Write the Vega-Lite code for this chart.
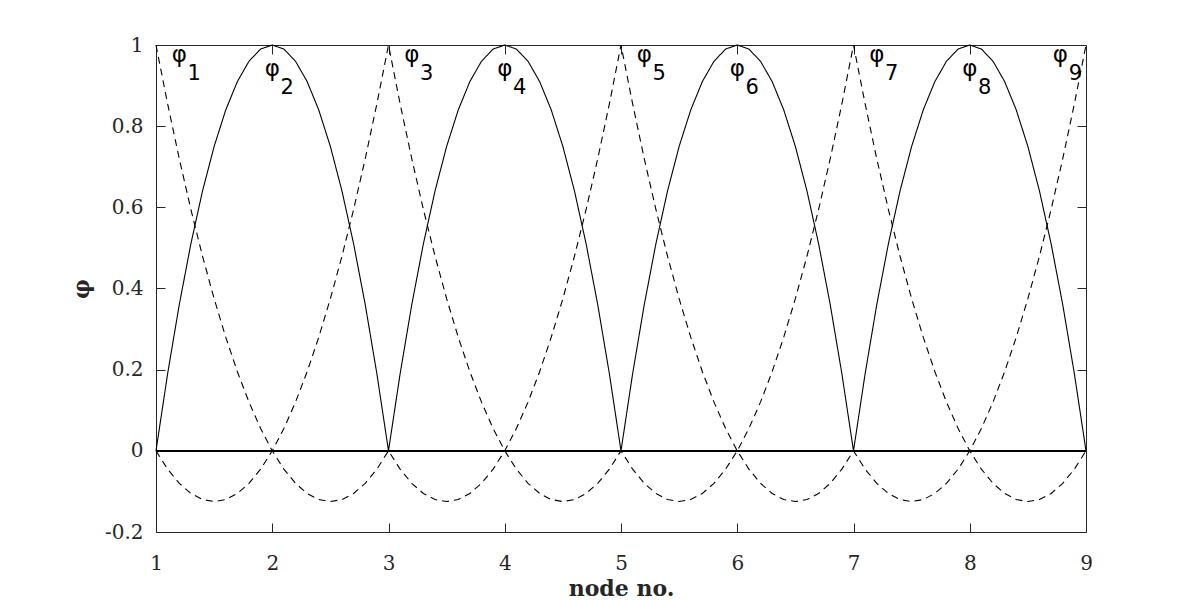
{
  "$schema": "https://vega.github.io/schema/vega-lite/v6.json",
  "width": 930,
  "height": 487,
  "autosize": "none",
  "padding": {"left": 156, "top": 45, "right": 114, "bottom": 68},
  "background": "white",
  "config": {"view": {"stroke": null}},
  "datasets": {
    "curves": [
      {"s":"A","t":"corner","x":1.0,"y":1},{"s":"A","t":"corner","x":1.1,"y":0.855},{"s":"A","t":"corner","x":1.2,"y":0.72},{"s":"A","t":"corner","x":1.3,"y":0.595},{"s":"A","t":"corner","x":1.4,"y":0.48},{"s":"A","t":"corner","x":1.5,"y":0.375},{"s":"A","t":"corner","x":1.6,"y":0.28},{"s":"A","t":"corner","x":1.7,"y":0.195},{"s":"A","t":"corner","x":1.8,"y":0.12},{"s":"A","t":"corner","x":1.9,"y":0.055},
      {"s":"A","t":"corner","x":2.0,"y":0},{"s":"A","t":"corner","x":2.1,"y":-0.045},{"s":"A","t":"corner","x":2.2,"y":-0.08},{"s":"A","t":"corner","x":2.3,"y":-0.105},{"s":"A","t":"corner","x":2.4,"y":-0.12},{"s":"A","t":"corner","x":2.5,"y":-0.125},{"s":"A","t":"corner","x":2.6,"y":-0.12},{"s":"A","t":"corner","x":2.7,"y":-0.105},{"s":"A","t":"corner","x":2.8,"y":-0.08},{"s":"A","t":"corner","x":2.9,"y":-0.045},
      {"s":"A","t":"corner","x":3.0,"y":0},{"s":"A","t":"corner","x":3.1,"y":-0.045},{"s":"A","t":"corner","x":3.2,"y":-0.08},{"s":"A","t":"corner","x":3.3,"y":-0.105},{"s":"A","t":"corner","x":3.4,"y":-0.12},{"s":"A","t":"corner","x":3.5,"y":-0.125},{"s":"A","t":"corner","x":3.6,"y":-0.12},{"s":"A","t":"corner","x":3.7,"y":-0.105},{"s":"A","t":"corner","x":3.8,"y":-0.08},{"s":"A","t":"corner","x":3.9,"y":-0.045},
      {"s":"A","t":"corner","x":4.0,"y":0},{"s":"A","t":"corner","x":4.1,"y":0.055},{"s":"A","t":"corner","x":4.2,"y":0.12},{"s":"A","t":"corner","x":4.3,"y":0.195},{"s":"A","t":"corner","x":4.4,"y":0.28},{"s":"A","t":"corner","x":4.5,"y":0.375},{"s":"A","t":"corner","x":4.6,"y":0.48},{"s":"A","t":"corner","x":4.7,"y":0.595},{"s":"A","t":"corner","x":4.8,"y":0.72},{"s":"A","t":"corner","x":4.9,"y":0.855},
      {"s":"A","t":"corner","x":5.0,"y":1},{"s":"A","t":"corner","x":5.1,"y":0.855},{"s":"A","t":"corner","x":5.2,"y":0.72},{"s":"A","t":"corner","x":5.3,"y":0.595},{"s":"A","t":"corner","x":5.4,"y":0.48},{"s":"A","t":"corner","x":5.5,"y":0.375},{"s":"A","t":"corner","x":5.6,"y":0.28},{"s":"A","t":"corner","x":5.7,"y":0.195},{"s":"A","t":"corner","x":5.8,"y":0.12},{"s":"A","t":"corner","x":5.9,"y":0.055},
      {"s":"A","t":"corner","x":6.0,"y":0},{"s":"A","t":"corner","x":6.1,"y":-0.045},{"s":"A","t":"corner","x":6.2,"y":-0.08},{"s":"A","t":"corner","x":6.3,"y":-0.105},{"s":"A","t":"corner","x":6.4,"y":-0.12},{"s":"A","t":"corner","x":6.5,"y":-0.125},{"s":"A","t":"corner","x":6.6,"y":-0.12},{"s":"A","t":"corner","x":6.7,"y":-0.105},{"s":"A","t":"corner","x":6.8,"y":-0.08},{"s":"A","t":"corner","x":6.9,"y":-0.045},
      {"s":"A","t":"corner","x":7.0,"y":0},{"s":"A","t":"corner","x":7.1,"y":-0.045},{"s":"A","t":"corner","x":7.2,"y":-0.08},{"s":"A","t":"corner","x":7.3,"y":-0.105},{"s":"A","t":"corner","x":7.4,"y":-0.12},{"s":"A","t":"corner","x":7.5,"y":-0.125},{"s":"A","t":"corner","x":7.6,"y":-0.12},{"s":"A","t":"corner","x":7.7,"y":-0.105},{"s":"A","t":"corner","x":7.8,"y":-0.08},{"s":"A","t":"corner","x":7.9,"y":-0.045},
      {"s":"A","t":"corner","x":8.0,"y":0},{"s":"A","t":"corner","x":8.1,"y":0.055},{"s":"A","t":"corner","x":8.2,"y":0.12},{"s":"A","t":"corner","x":8.3,"y":0.195},{"s":"A","t":"corner","x":8.4,"y":0.28},{"s":"A","t":"corner","x":8.5,"y":0.375},{"s":"A","t":"corner","x":8.6,"y":0.48},{"s":"A","t":"corner","x":8.7,"y":0.595},{"s":"A","t":"corner","x":8.8,"y":0.72},{"s":"A","t":"corner","x":8.9,"y":0.855},
      {"s":"A","t":"corner","x":9.0,"y":1},

      {"s":"B","t":"corner","x":1.0,"y":0},{"s":"B","t":"corner","x":1.1,"y":-0.045},{"s":"B","t":"corner","x":1.2,"y":-0.08},{"s":"B","t":"corner","x":1.3,"y":-0.105},{"s":"B","t":"corner","x":1.4,"y":-0.12},{"s":"B","t":"corner","x":1.5,"y":-0.125},{"s":"B","t":"corner","x":1.6,"y":-0.12},{"s":"B","t":"corner","x":1.7,"y":-0.105},{"s":"B","t":"corner","x":1.8,"y":-0.08},{"s":"B","t":"corner","x":1.9,"y":-0.045},
      {"s":"B","t":"corner","x":2.0,"y":0},{"s":"B","t":"corner","x":2.1,"y":0.055},{"s":"B","t":"corner","x":2.2,"y":0.12},{"s":"B","t":"corner","x":2.3,"y":0.195},{"s":"B","t":"corner","x":2.4,"y":0.28},{"s":"B","t":"corner","x":2.5,"y":0.375},{"s":"B","t":"corner","x":2.6,"y":0.48},{"s":"B","t":"corner","x":2.7,"y":0.595},{"s":"B","t":"corner","x":2.8,"y":0.72},{"s":"B","t":"corner","x":2.9,"y":0.855},
      {"s":"B","t":"corner","x":3.0,"y":1},{"s":"B","t":"corner","x":3.1,"y":0.855},{"s":"B","t":"corner","x":3.2,"y":0.72},{"s":"B","t":"corner","x":3.3,"y":0.595},{"s":"B","t":"corner","x":3.4,"y":0.48},{"s":"B","t":"corner","x":3.5,"y":0.375},{"s":"B","t":"corner","x":3.6,"y":0.28},{"s":"B","t":"corner","x":3.7,"y":0.195},{"s":"B","t":"corner","x":3.8,"y":0.12},{"s":"B","t":"corner","x":3.9,"y":0.055},
      {"s":"B","t":"corner","x":4.0,"y":0},{"s":"B","t":"corner","x":4.1,"y":-0.045},{"s":"B","t":"corner","x":4.2,"y":-0.08},{"s":"B","t":"corner","x":4.3,"y":-0.105},{"s":"B","t":"corner","x":4.4,"y":-0.12},{"s":"B","t":"corner","x":4.5,"y":-0.125},{"s":"B","t":"corner","x":4.6,"y":-0.12},{"s":"B","t":"corner","x":4.7,"y":-0.105},{"s":"B","t":"corner","x":4.8,"y":-0.08},{"s":"B","t":"corner","x":4.9,"y":-0.045},
      {"s":"B","t":"corner","x":5.0,"y":0},{"s":"B","t":"corner","x":5.1,"y":-0.045},{"s":"B","t":"corner","x":5.2,"y":-0.08},{"s":"B","t":"corner","x":5.3,"y":-0.105},{"s":"B","t":"corner","x":5.4,"y":-0.12},{"s":"B","t":"corner","x":5.5,"y":-0.125},{"s":"B","t":"corner","x":5.6,"y":-0.12},{"s":"B","t":"corner","x":5.7,"y":-0.105},{"s":"B","t":"corner","x":5.8,"y":-0.08},{"s":"B","t":"corner","x":5.9,"y":-0.045},
      {"s":"B","t":"corner","x":6.0,"y":0},{"s":"B","t":"corner","x":6.1,"y":0.055},{"s":"B","t":"corner","x":6.2,"y":0.12},{"s":"B","t":"corner","x":6.3,"y":0.195},{"s":"B","t":"corner","x":6.4,"y":0.28},{"s":"B","t":"corner","x":6.5,"y":0.375},{"s":"B","t":"corner","x":6.6,"y":0.48},{"s":"B","t":"corner","x":6.7,"y":0.595},{"s":"B","t":"corner","x":6.8,"y":0.72},{"s":"B","t":"corner","x":6.9,"y":0.855},
      {"s":"B","t":"corner","x":7.0,"y":1},{"s":"B","t":"corner","x":7.1,"y":0.855},{"s":"B","t":"corner","x":7.2,"y":0.72},{"s":"B","t":"corner","x":7.3,"y":0.595},{"s":"B","t":"corner","x":7.4,"y":0.48},{"s":"B","t":"corner","x":7.5,"y":0.375},{"s":"B","t":"corner","x":7.6,"y":0.28},{"s":"B","t":"corner","x":7.7,"y":0.195},{"s":"B","t":"corner","x":7.8,"y":0.12},{"s":"B","t":"corner","x":7.9,"y":0.055},
      {"s":"B","t":"corner","x":8.0,"y":0},{"s":"B","t":"corner","x":8.1,"y":-0.045},{"s":"B","t":"corner","x":8.2,"y":-0.08},{"s":"B","t":"corner","x":8.3,"y":-0.105},{"s":"B","t":"corner","x":8.4,"y":-0.12},{"s":"B","t":"corner","x":8.5,"y":-0.125},{"s":"B","t":"corner","x":8.6,"y":-0.12},{"s":"B","t":"corner","x":8.7,"y":-0.105},{"s":"B","t":"corner","x":8.8,"y":-0.08},{"s":"B","t":"corner","x":8.9,"y":-0.045},
      {"s":"B","t":"corner","x":9.0,"y":0},

      {"s":"M","t":"mid","x":1.0,"y":0},{"s":"M","t":"mid","x":1.1,"y":0.19},{"s":"M","t":"mid","x":1.2,"y":0.36},{"s":"M","t":"mid","x":1.3,"y":0.51},{"s":"M","t":"mid","x":1.4,"y":0.64},{"s":"M","t":"mid","x":1.5,"y":0.75},{"s":"M","t":"mid","x":1.6,"y":0.84},{"s":"M","t":"mid","x":1.7,"y":0.91},{"s":"M","t":"mid","x":1.8,"y":0.96},{"s":"M","t":"mid","x":1.9,"y":0.99},
      {"s":"M","t":"mid","x":2.0,"y":1},{"s":"M","t":"mid","x":2.1,"y":0.99},{"s":"M","t":"mid","x":2.2,"y":0.96},{"s":"M","t":"mid","x":2.3,"y":0.91},{"s":"M","t":"mid","x":2.4,"y":0.84},{"s":"M","t":"mid","x":2.5,"y":0.75},{"s":"M","t":"mid","x":2.6,"y":0.64},{"s":"M","t":"mid","x":2.7,"y":0.51},{"s":"M","t":"mid","x":2.8,"y":0.36},{"s":"M","t":"mid","x":2.9,"y":0.19},
      {"s":"M","t":"mid","x":3.0,"y":0},{"s":"M","t":"mid","x":3.1,"y":0.19},{"s":"M","t":"mid","x":3.2,"y":0.36},{"s":"M","t":"mid","x":3.3,"y":0.51},{"s":"M","t":"mid","x":3.4,"y":0.64},{"s":"M","t":"mid","x":3.5,"y":0.75},{"s":"M","t":"mid","x":3.6,"y":0.84},{"s":"M","t":"mid","x":3.7,"y":0.91},{"s":"M","t":"mid","x":3.8,"y":0.96},{"s":"M","t":"mid","x":3.9,"y":0.99},
      {"s":"M","t":"mid","x":4.0,"y":1},{"s":"M","t":"mid","x":4.1,"y":0.99},{"s":"M","t":"mid","x":4.2,"y":0.96},{"s":"M","t":"mid","x":4.3,"y":0.91},{"s":"M","t":"mid","x":4.4,"y":0.84},{"s":"M","t":"mid","x":4.5,"y":0.75},{"s":"M","t":"mid","x":4.6,"y":0.64},{"s":"M","t":"mid","x":4.7,"y":0.51},{"s":"M","t":"mid","x":4.8,"y":0.36},{"s":"M","t":"mid","x":4.9,"y":0.19},
      {"s":"M","t":"mid","x":5.0,"y":0},{"s":"M","t":"mid","x":5.1,"y":0.19},{"s":"M","t":"mid","x":5.2,"y":0.36},{"s":"M","t":"mid","x":5.3,"y":0.51},{"s":"M","t":"mid","x":5.4,"y":0.64},{"s":"M","t":"mid","x":5.5,"y":0.75},{"s":"M","t":"mid","x":5.6,"y":0.84},{"s":"M","t":"mid","x":5.7,"y":0.91},{"s":"M","t":"mid","x":5.8,"y":0.96},{"s":"M","t":"mid","x":5.9,"y":0.99},
      {"s":"M","t":"mid","x":6.0,"y":1},{"s":"M","t":"mid","x":6.1,"y":0.99},{"s":"M","t":"mid","x":6.2,"y":0.96},{"s":"M","t":"mid","x":6.3,"y":0.91},{"s":"M","t":"mid","x":6.4,"y":0.84},{"s":"M","t":"mid","x":6.5,"y":0.75},{"s":"M","t":"mid","x":6.6,"y":0.64},{"s":"M","t":"mid","x":6.7,"y":0.51},{"s":"M","t":"mid","x":6.8,"y":0.36},{"s":"M","t":"mid","x":6.9,"y":0.19},
      {"s":"M","t":"mid","x":7.0,"y":0},{"s":"M","t":"mid","x":7.1,"y":0.19},{"s":"M","t":"mid","x":7.2,"y":0.36},{"s":"M","t":"mid","x":7.3,"y":0.51},{"s":"M","t":"mid","x":7.4,"y":0.64},{"s":"M","t":"mid","x":7.5,"y":0.75},{"s":"M","t":"mid","x":7.6,"y":0.84},{"s":"M","t":"mid","x":7.7,"y":0.91},{"s":"M","t":"mid","x":7.8,"y":0.96},{"s":"M","t":"mid","x":7.9,"y":0.99},
      {"s":"M","t":"mid","x":8.0,"y":1},{"s":"M","t":"mid","x":8.1,"y":0.99},{"s":"M","t":"mid","x":8.2,"y":0.96},{"s":"M","t":"mid","x":8.3,"y":0.91},{"s":"M","t":"mid","x":8.4,"y":0.84},{"s":"M","t":"mid","x":8.5,"y":0.75},{"s":"M","t":"mid","x":8.6,"y":0.64},{"s":"M","t":"mid","x":8.7,"y":0.51},{"s":"M","t":"mid","x":8.8,"y":0.36},{"s":"M","t":"mid","x":8.9,"y":0.19},
      {"s":"M","t":"mid","x":9.0,"y":0}
    ],
    "labels": [
      {"x":1.2,"y":0.975,"n":"1"},
      {"x":2.0,"y":0.942,"n":"2"},
      {"x":3.2,"y":0.975,"n":"3"},
      {"x":4.0,"y":0.942,"n":"4"},
      {"x":5.2,"y":0.975,"n":"5"},
      {"x":6.0,"y":0.942,"n":"6"},
      {"x":7.2,"y":0.975,"n":"7"},
      {"x":8.0,"y":0.942,"n":"8"},
      {"x":8.78,"y":0.975,"n":"9"}
    ]
  },
  "resolve": {"axis": {"x": "independent", "y": "independent"}},
  "layer": [
    {
      "data": {"name": "curves"},
      "mark": {"type": "line", "color": "black", "strokeWidth": 1.1},
      "encoding": {
        "x": {"field": "x", "type": "quantitative",
          "scale": {"domain": [1, 9], "nice": false, "zero": false},
          "axis": {"orient": "bottom", "values": [1,2,3,4,5,6,7,8,9], "grid": false, "labelFlush": false,
            "tickSize": -9, "tickColor": "#262626", "domainColor": "#262626",
            "labelFont": "DejaVu Serif", "labelFontSize": 20, "labelColor": "#262626", "labelPadding": 30,
            "title": "node no.", "titleFont": "DejaVu Serif", "titleFontSize": 22, "titleFontWeight": "bold",
            "titleColor": "#262626", "titlePadding": 5}},
        "y": {"field": "y", "type": "quantitative",
          "scale": {"domain": [-0.2, 1], "nice": false, "zero": false},
          "axis": {"orient": "left", "values": [-0.2,0,0.2,0.4,0.6,0.8,1], "grid": false, "labelFlush": false,
            "labelExpr": "'' + datum.value",
            "tickSize": -9, "tickColor": "#262626", "domainColor": "#262626",
            "labelFont": "DejaVu Serif", "labelFontSize": 20, "labelColor": "#262626", "labelPadding": 22,
            "title": "φ", "titleFont": "DejaVu Serif", "titleFontSize": 22, "titleFontWeight": "bold",
            "titleColor": "#262626", "titlePadding": 11}},
        "detail": {"field": "s"},
        "strokeDash": {"field": "t", "type": "nominal", "legend": null,
          "scale": {"domain": ["mid", "corner"], "range": [[1, 0], [7, 5]]}}
      }
    },
    {
      "data": {"name": "curves"},
      "mark": {"type": "rule", "color": "black", "strokeWidth": 0.9},
      "encoding": {"y": {"datum": 0, "type": "quantitative", "axis": null}}
    },
    {
      "data": {"name": "labels"},
      "mark": {"type": "text", "text": "φ", "font": "DejaVu Sans", "fontSize": 23, "align": "center", "baseline": "middle", "color": "black"},
      "encoding": {
        "x": {"field": "x", "type": "quantitative",
          "axis": {"orient": "top", "values": [1,2,3,4,5,6,7,8,9], "grid": false, "labels": false, "title": null,
            "tickSize": -9, "tickColor": "#262626", "domainColor": "#262626"}},
        "y": {"field": "y", "type": "quantitative",
          "axis": {"orient": "right", "values": [-0.2,0,0.2,0.4,0.6,0.8,1], "grid": false, "labels": false, "title": null,
            "tickSize": -9, "tickColor": "#262626", "domainColor": "#262626"}}
      }
    },
    {
      "data": {"name": "labels"},
      "mark": {"type": "text", "font": "DejaVu Sans", "fontSize": 21, "align": "center", "baseline": "middle", "dx": 15, "dy": 19, "color": "black"},
      "encoding": {
        "x": {"field": "x", "type": "quantitative", "axis": null},
        "y": {"field": "y", "type": "quantitative", "axis": null},
        "text": {"field": "n"}
      }
    }
  ]
}
